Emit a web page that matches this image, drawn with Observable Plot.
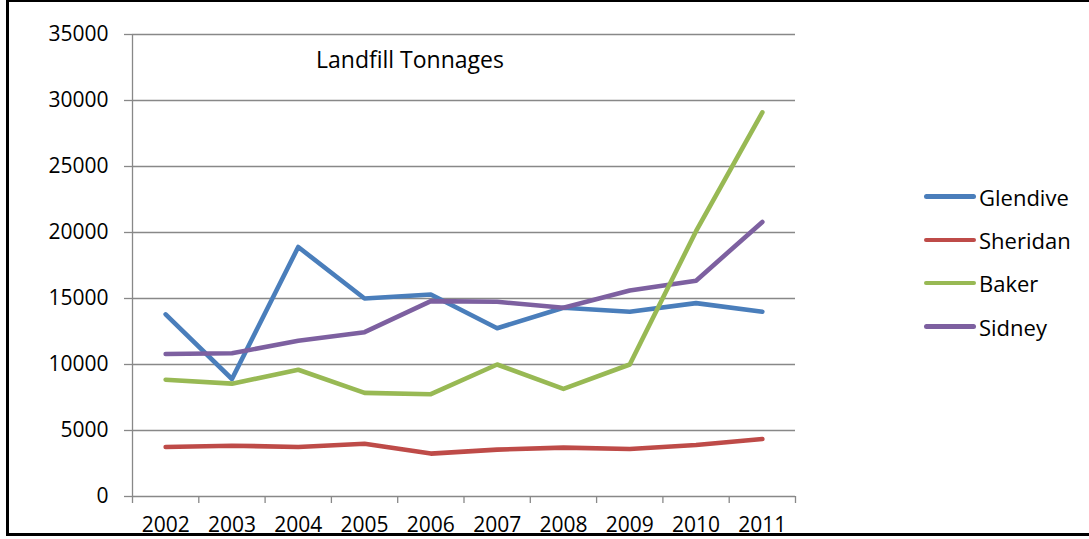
<!DOCTYPE html>
<html>
<head>
<meta charset="utf-8">
<script src="https://cdn.jsdelivr.net/npm/d3@7"></script>
<script src="https://cdn.jsdelivr.net/npm/@observablehq/plot@0.6"></script>
<style>
  body { margin: 0; background: #fff; font-family: "Open Sans", sans-serif; }
  #wrap { position: relative; width: 1089px; height: 539px; overflow: hidden; background: #fff; }
  #frame { position: absolute; left: 6px; top: -1px; width: 1100px; height: 537px; box-sizing: border-box;
           border: 3px solid #000; border-right: none; pointer-events: none; }
  #title { position: absolute; left: 316px; top: 48px; font-size: 23px; line-height: 1; color: #000; white-space: nowrap; }
  #legend { position: absolute; left: 924px; top: 175px; }
  .item { display: flex; align-items: center; height: 43.3px; font-size: 22px; line-height: 1; color: #000; }
  .swatch { width: 52px; height: 4.5px; border-radius: 3px; margin-right: 3px; }
</style>
</head>
<body>
<div id="wrap">
  <div id="chart"></div>
  <div id="title"></div>
  <div id="legend"></div>
  <div id="frame"></div>
</div>
<script>
// Annual landfill tonnages by site
const years = [2002, 2003, 2004, 2005, 2006, 2007, 2008, 2009, 2010, 2011];
const glendive = [13800, 8900, 18900, 15000, 15300, 12750, 14300, 14000, 14650, 14000];
const sheridan = [3750, 3850, 3750, 4000, 3250, 3550, 3700, 3600, 3900, 4350];
const baker = [8850, 8550, 9600, 7850, 7750, 10000, 8150, 10000, 20100, 29100];
const sidney = [10800, 10850, 11800, 12450, 14800, 14750, 14300, 15600, 16350, 20800];

const seriesNames = ["Glendive", "Sheridan", "Baker", "Sidney"];
const seriesColors = ["#4a7ebb", "#be4b48", "#98b954", "#7d60a0"];
const yTicks = [0, 5000, 10000, 15000, 20000, 25000, 30000, 35000];
const titleText = "Landfill Tonnages";

const valuesBySeries = { Glendive: glendive, Sheridan: sheridan, Baker: baker, Sidney: sidney };

// Long-format table; painting order puts Baker on top, Glendive underneath
const drawOrder = ["Sheridan", "Glendive", "Sidney", "Baker"];
const rows = drawOrder.flatMap(name =>
  years.map((year, i) => ({ series: name, year, value: valuesBySeries[name][i] }))
);

// Category boundaries sit halfway between years
const boundaries = [...years.map(y => y - 0.5), years[years.length - 1] + 0.5];
const gridColor = "#888888";

const chart = Plot.plot({
  width: 1089,
  height: 539,
  marginLeft: 132,
  marginRight: 294,
  marginTop: 34,
  marginBottom: 43,
  style: { fontFamily: "'Open Sans', sans-serif", fontSize: "21px", color: "#000", background: "transparent" },
  x: { type: "linear", domain: [boundaries[0], boundaries[boundaries.length - 1]] },
  y: { domain: [0, 35000] },
  color: { domain: seriesNames, range: seriesColors },
  marks: [
    Plot.gridY(yTicks, { stroke: gridColor, strokeOpacity: 1, strokeWidth: 1.3, x1: boundaries[0], x2: boundaries[boundaries.length - 1] }),
    Plot.ruleX([boundaries[0]], { y1: 0, y2: 35000, stroke: gridColor, strokeWidth: 1.3 }),
    Plot.axisY({ ticks: yTicks, tickSize: 8, tickPadding: 16, stroke: gridColor, strokeWidth: 1.3, tickFormat: d => String(d), label: null }),
    Plot.axisX({ ticks: boundaries, tickSize: 7, stroke: gridColor, strokeWidth: 1.3, tickFormat: () => "", label: null }),
    Plot.axisX({ ticks: years, tickSize: 0, tickPadding: 21, tickFormat: d => String(d), label: null }),
    Plot.line(rows, {
      x: "year", y: "value", z: "series", stroke: "series",
      strokeWidth: 4.6, strokeLinecap: "round", strokeLinejoin: "round"
    })
  ]
});
document.getElementById("chart").appendChild(chart);

document.getElementById("title").textContent = titleText;

const legend = document.getElementById("legend");
seriesNames.forEach((name, i) => {
  const item = document.createElement("div");
  item.className = "item";
  const sw = document.createElement("span");
  sw.className = "swatch";
  sw.style.background = seriesColors[i];
  const label = document.createElement("span");
  label.textContent = name;
  item.appendChild(sw);
  item.appendChild(label);
  legend.appendChild(item);
});
</script>
</body>
</html>
